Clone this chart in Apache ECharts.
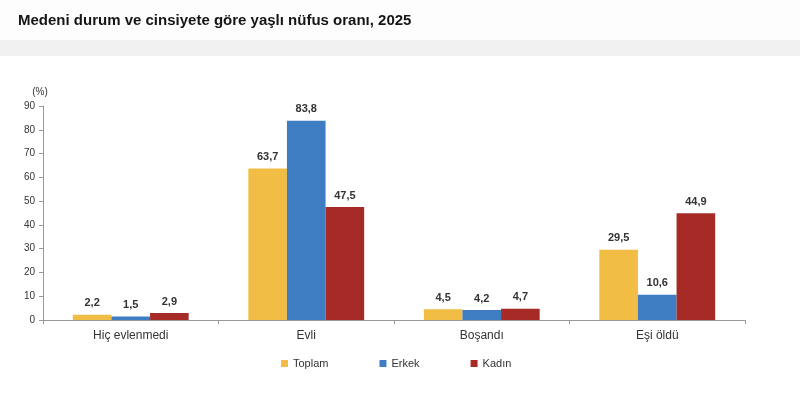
<!DOCTYPE html>
<html><head><meta charset="utf-8">
<script src="https://cdn.jsdelivr.net/npm/echarts@6/dist/echarts.min.js"></script>
<style>html,body{margin:0;padding:0;background:#fdfdfd}#c{width:800px;height:393px}</style>
</head><body><div id="c"></div>
<script>
const categories = ['Hiç evlenmedi', 'Evli', 'Boşandı', 'Eşi öldü'];
const toplam = [2.2, 63.7, 4.5, 29.5];
const erkek = [1.5, 83.8, 4.2, 10.6];
const kadin = [2.9, 47.5, 4.7, 44.9];
const seriesNames = ['Toplam', 'Erkek', 'Kadın'];
const yTicks = [0, 10, 20, 30, 40, 50, 60, 70, 80, 90];

const chart = echarts.init(document.getElementById('c'));
const lbl = {
  show: true, position: 'top', distance: 6,
  fontFamily: 'Liberation Sans, Arial', fontWeight: 'bold', fontSize: 11, color: '#333',
  formatter: p => String(p.value).replace('.', ',')
};
const colors = ['#F2BD45', '#3F7DC3', '#A62B27'];
chart.setOption({
  backgroundColor: '#fdfdfd',
  animation: false,
  title: {
    text: 'Medeni durum ve cinsiyete göre yaşlı nüfus oranı, 2025',
    left: 13, top: 8,
    textStyle: { fontFamily: 'Liberation Sans, Arial', fontWeight: 'bold', fontSize: 15, color: '#151515' }
  },
  graphic: [
    { type: 'rect', shape: { x: 0, y: 40, width: 800, height: 16 }, style: { fill: '#f0f0f0' }, z: -1 },
    { type: 'rect', shape: { x: 0, y: 56, width: 800, height: 337 }, style: { fill: '#ffffff' }, z: -2 }
  ],
  legend: {
    left: 276, top: 353, itemWidth: 7, itemHeight: 7, itemGap: 51, icon: 'rect',
    textStyle: { fontFamily: 'Liberation Sans, Arial', fontSize: 11, color: '#333' },
    data: seriesNames
  },
  grid: { left: 43, right: 55, top: 106, bottom: 73 },
  xAxis: {
    type: 'category', data: categories,
    axisLine: { lineStyle: { color: '#999' } },
    axisTick: { show: true, length: 4, lineStyle: { color: '#999' } },
    axisLabel: { fontFamily: 'Liberation Sans, Arial', fontSize: 12, color: '#333', margin: 10 }
  },
  yAxis: {
    type: 'value', min: yTicks[0], max: yTicks[yTicks.length - 1], interval: 10,
    name: '(%)', nameLocation: 'end', nameGap: 9,
    nameTextStyle: { fontFamily: 'Liberation Sans, Arial', fontSize: 10, color: '#333', align: 'center', padding: [0, 0, 0, -6] },
    axisLine: { show: true, lineStyle: { color: '#999' } },
    axisTick: { show: true, length: 4, lineStyle: { color: '#999' } },
    splitLine: { show: false },
    axisLabel: { fontFamily: 'Liberation Sans, Arial', fontSize: 10, color: '#333', margin: 8 }
  },
  series: [
    { name: seriesNames[0], type: 'bar', data: toplam, itemStyle: { color: colors[0] }, label: lbl, barGap: '0%', barCategoryGap: '34%' },
    { name: seriesNames[1], type: 'bar', data: erkek, itemStyle: { color: colors[1] }, label: lbl, barGap: '0%', barCategoryGap: '34%' },
    { name: seriesNames[2], type: 'bar', data: kadin, itemStyle: { color: colors[2] }, label: lbl, barGap: '0%', barCategoryGap: '34%' }
  ]
});
</script></body></html>
